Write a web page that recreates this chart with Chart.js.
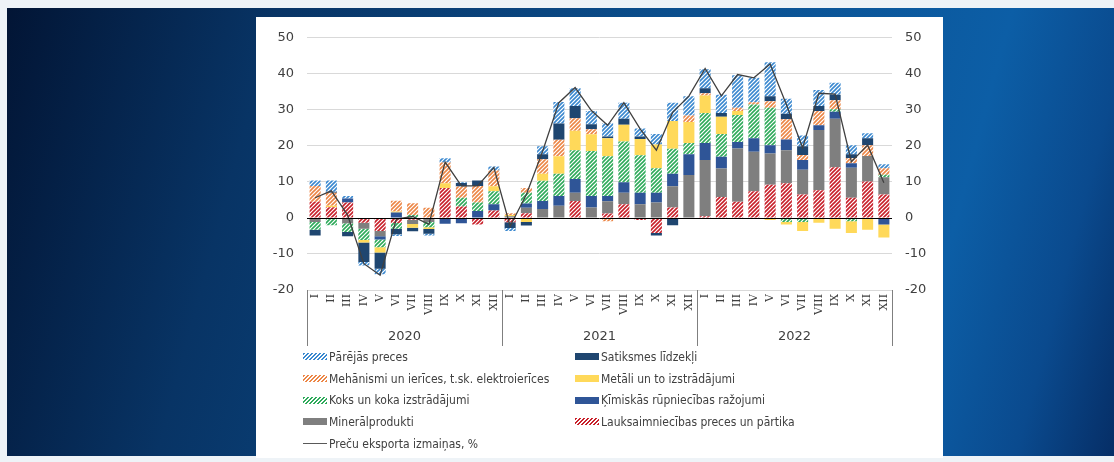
<!DOCTYPE html>
<html>
<head>
<meta charset="utf-8">
<script src="https://cdn.jsdelivr.net/npm/chart.js@4.4.1/dist/chart.umd.min.js"></script>
<style>
  html, body { margin: 0; padding: 0; }
  body {
    width: 1114px; height: 462px; position: relative; overflow: hidden;
    background: #eef3f7;
    font-family: "DejaVu Sans", Verdana, sans-serif;
  }
  #bg {
    position: absolute; left: 7px; top: 8px; width: 1107px; height: 448px;
    background: linear-gradient(105deg, #021535 0%, #083465 22%, #0b4f8e 55%, #0c5ea6 82%, #0a4a8e 92%, #062e66 100%);
  }
  #panel {
    position: absolute; left: 256px; top: 17px; width: 687px; height: 441px;
    background: #fff;
  }
  #chart { position: absolute; left: 0; top: 0; }
  #legend {
    position: absolute; left: 47px; top: 329px;
    display: grid; grid-template-columns: 272px 300px; grid-auto-rows: 21.7px;
    font-family: "DejaVu Sans Condensed", "DejaVu Sans", sans-serif;
    font-stretch: condensed;
    font-size: 12px; color: #404040;
  }
  .item { display: flex; align-items: center; white-space: nowrap; }
  .sw { width: 24px; height: 7px; margin-right: 2px; flex: none; }
  .ln { width: 24px; height: 0; border-top: 1.5px solid #595959; margin-right: 2px; flex: none; }
</style>
</head>
<body>
<div id="bg"></div>
<div id="panel">
  <canvas id="chart" width="687" height="340"></canvas>
  <div id="legend"></div>
</div>
<script>
const years = ["2020", "2021", "2022"];
const romanMonths = ["I", "II", "III", "IV", "V", "VI", "VII", "VIII", "IX", "X", "XI", "XII"];
const categories = years.flatMap(() => romanMonths);
const yTicks = { min: -20, max: 50, step: 10 };

// contributions, percentage points (2020 I ... 2022 XII)
const lauksaimniecibas = [
  4.5, 3.0, 4.3, -1.3, -3.6, -1.4, -0.5, -0.3, 8.3, 3.2, -1.8, 2.1,
  -1.2, 1.3, 0, 0, 4.7, 0, 1.2, 3.8, -0.6, -4.2, 2.9, 0,
  0.5, 5.8, 4.5, 7.4, 9.2, 9.6, 6.5, 7.7, 14.1, 5.6, 10.1, 6.5,
];
const mineralprodukti = [
  -1.1, 0, -1.5, -1.7, -1.5, 0, -1.2, -0.8, 0, 0, 0, 0,
  0.5, 1.5, 2.5, 3.4, 2.3, 2.9, 3.4, 3.2, 3.8, 4.3, 5.9, 11.9,
  15.6, 7.9, 14.8, 11.0, 8.7, 9.2, 6.9, 16.7, 13.4, 8.3, 7.1, 4.8,
];
const kimiskas = [
  0, 0, 1.1, 0, -0.9, 1.5, 0, 0, -1.6, -1.5, 1.9, 1.7,
  0, 1.2, 2.2, 2.7, 3.8, 3.2, 1.5, 2.9, 3.2, 2.7, 3.5, 5.8,
  4.7, 3.3, 1.8, 3.7, 2.3, 3.0, 2.7, 1.3, 2.0, 1.3, 0, -1.8,
];
const koks = [
  -2.2, -2.0, -2.4, -3.1, -2.1, -1.6, 0.8, -1.5, 0, 2.4, 2.4, 3.6,
  0, 3.0, 5.6, 6.2, 8.0, 12.5, 11.0, 11.3, 10.4, 6.8, 6.9, 3.1,
  8.3, 6.3, 7.5, 9.4, 10.4, -1.1, -1.1, 0, 0.7, -0.9, 0, 0.7,
];
const metali = [
  0, 0.4, 0, -0.7, -1.5, 0.3, -1.0, -0.5, 1.3, 0, 0, 1.4,
  0.3, -1.1, 2.0, 4.8, 5.4, 4.6, 5.0, 4.7, 4.5, 6.6, 7.7, 5.8,
  4.9, 4.8, 1.1, 0, -0.6, -0.7, -2.5, -1.3, -3.0, -3.3, -3.3, -3.6,
];
const mehanismi = [
  4.4, 3.6, 0, 0, 0, 3.0, 3.3, 2.8, 5.8, 3.1, 4.6, 4.4,
  0.5, 1.3, 4.0, 4.6, 3.5, 1.4, -0.9, 0, 0, 0, 0, 1.8,
  0.6, 0, 0.9, 0.6, 1.8, 5.6, 1.4, 4.0, 2.5, 1.4, 3.0, 1.8,
];
const satiksmes = [
  -1.6, 0.3, -1.2, -5.4, -4.5, -1.5, -1.0, -1.3, 0, 1.0, 1.5, 0,
  -1.6, -1.0, 1.4, 4.5, 3.4, 1.4, 0.5, 1.6, 0.7, -0.7, -2.0, 0,
  1.4, 1.0, 0, -0.3, 1.4, 1.5, 2.4, 1.4, 1.5, 1.1, 1.9, 0,
];
const parejas = [
  1.5, 3.1, 0.7, -1.0, -1.5, -0.5, 0, -0.5, 1.2, 0.2, 0, 1.1,
  -0.8, 0, 2.2, 6.0, 4.9, 3.7, 3.7, 4.5, 2.2, 2.9, 5.1, 5.4,
  5.3, 5.1, 9.0, 6.8, 9.4, 4.2, 3.0, 4.4, 3.3, 2.5, 1.4, 1.1,
];
const eksportaIzmainas = [
  5.6, 7.5, 0.8, -12.7, -15.9, -0.3, 0.4, -1.8, 15.5, 8.9, 8.9, 14.0,
  -2.3, 6.5, 18.5, 32.0, 36.2, 29.8, 25.7, 32.0, 24.7, 18.8, 29.3, 33.8,
  41.5, 33.9, 39.8, 38.9, 42.7, 31.5, 19.5, 34.6, 34.4, 15.6, 20.2, 9.8,
];

// hatched fill like the Excel "wide upward diagonal" pattern
function hatch(color) {
  let c = document.createElement("canvas");
  c.width = 4;
  c.height = 4;
  let g = c.getContext("2d");
  g.fillStyle = "#fff";
  g.fillRect(0, 0, 4, 4);
  g.strokeStyle = color;
  g.lineWidth = 1.6;
  g.beginPath();
  g.moveTo(-1, 5); g.lineTo(5, -1);
  g.moveTo(-1, 1); g.lineTo(1, -1);
  g.moveTo(3, 5); g.lineTo(5, 3);
  g.stroke();
  return g.createPattern(c, "repeat");
}

const series = [
  { label: "Lauksaimniecības preces un pārtika", data: lauksaimniecibas, color: "#c8202a", hatched: true },
  { label: "Minerālprodukti", data: mineralprodukti, color: "#7f7f7f" },
  { label: "Ķīmiskās rūpniecības ražojumi", data: kimiskas, color: "#2f5597" },
  { label: "Koks un koka izstrādājumi", data: koks, color: "#2eaa5a", hatched: true },
  { label: "Metāli un to izstrādājumi", data: metali, color: "#ffd95a" },
  { label: "Mehānismi un ierīces, t.sk. elektroierīces", data: mehanismi, color: "#ec8646", hatched: true },
  { label: "Satiksmes līdzekļi", data: satiksmes, color: "#1f4670" },
  { label: "Pārējās preces", data: parejas, color: "#3a88cf", hatched: true },
];

let datasets = series.map((s) => ({
  type: "bar",
  label: s.label,
  data: s.data,
  backgroundColor: s.hatched ? hatch(s.color) : s.color,
  borderWidth: 0,
  barPercentage: 0.68,
  categoryPercentage: 1,
  order: 1,
}));
datasets.push({
  type: "line",
  label: "Preču eksporta izmaiņas, %",
  data: eksportaIzmainas,
  borderColor: "#404040",
  borderWidth: 1.3,
  pointRadius: 0,
  tension: 0,
  stack: "total",
  order: 0,
});

// zero axis on top of the bars, year separators under the plot
const axisLines = {
  id: "axisLines",
  afterDatasetsDraw(chart) {
    let c = chart.ctx;
    let area = chart.chartArea;
    let zero = Math.round(chart.scales.y.getPixelForValue(0)) + 0.5;
    c.save();
    c.strokeStyle = "#000";
    c.lineWidth = 1;
    c.beginPath();
    c.moveTo(area.left, zero);
    c.lineTo(area.right, zero);
    c.stroke();
    c.restore();
  },
  afterDraw(chart) {
    let c = chart.ctx;
    let x = chart.scales.x;
    let half = (x.getPixelForValue(1) - x.getPixelForValue(0)) / 2;
    let top = chart.chartArea.bottom;
    let bottom = chart.scales.year.bottom - 7;
    c.save();
    c.strokeStyle = "#7f7f7f";
    c.lineWidth = 1;
    for (let b = 0; b <= categories.length; b += romanMonths.length) {
      let px = b < categories.length ? x.getPixelForValue(b) - half : x.getPixelForValue(b - 1) + half;
      px = Math.round(px) + 0.5;
      c.beginPath();
      c.moveTo(px, top);
      c.lineTo(px, bottom);
      c.stroke();
    }
    c.restore();
  },
};

Chart.defaults.font.family = '"DejaVu Sans", Verdana, sans-serif';
Chart.defaults.color = "#404040";

const valueTicks = {
  stepSize: yTicks.step,
  padding: 13,
  font: { size: 13 },
  color: "#404040",
};

new Chart(document.getElementById("chart").getContext("2d"), {
  type: "bar",
  data: { labels: categories, datasets: datasets },
  options: {
    responsive: false,
    animation: false,
    devicePixelRatio: 1,
    layout: { padding: { top: 13, left: 0, right: 0, bottom: 4 } },
    plugins: { legend: { display: false }, tooltip: { enabled: false } },
    scales: {
      x: {
        stacked: true,
        offset: true,
        grid: { display: false, drawTicks: false },
        border: { display: false },
        ticks: {
          autoSkip: false,
          minRotation: 90,
          maxRotation: 90,
          padding: 4,
          font: { family: '"DejaVu Serif", serif', size: 11 },
          color: "#404040",
        },
        afterFit: (s) => { s.height = 39; },
      },
      year: {
        type: "category",
        labels: years,
        position: "bottom",
        offset: true,
        grid: { display: false, drawTicks: false },
        border: { display: false },
        ticks: { padding: 0, font: { size: 13 }, color: "#404040" },
        afterFit: (s) => { s.height = 24; },
      },
      y: {
        stacked: true,
        min: yTicks.min,
        max: yTicks.max,
        grid: {
          drawTicks: false,
          color: (ctx) => (ctx.tick && ctx.tick.value === 0 ? "rgba(0,0,0,0)" : "#d9d9d9"),
        },
        border: { display: false },
        ticks: valueTicks,
        afterFit: (s) => { s.width = 51; },
      },
      y2: {
        position: "right",
        min: yTicks.min,
        max: yTicks.max,
        grid: { display: false, drawTicks: false },
        border: { display: false },
        ticks: valueTicks,
        afterFit: (s) => { s.width = 51; },
      },
    },
  },
  plugins: [axisLines],
});

// legend in two columns, reversed like the Excel original
function swatchCss(s) {
  if (!s.hatched) return "background:" + s.color + ";";
  return "background: repeating-linear-gradient(135deg, " + s.color + " 0 1.5px, #fff 1.5px 2.9px);";
}
let legendHtml = "";
for (let i = series.length - 1; i >= 0; i--) {
  let s = series[i];
  legendHtml += '<div class="item"><span class="sw" style="' + swatchCss(s) + '"></span>' + s.label + "</div>";
}
legendHtml += '<div class="item"><span class="ln"></span>Preču eksporta izmaiņas, %</div>';
document.getElementById("legend").innerHTML = legendHtml;
</script>
</body>
</html>
